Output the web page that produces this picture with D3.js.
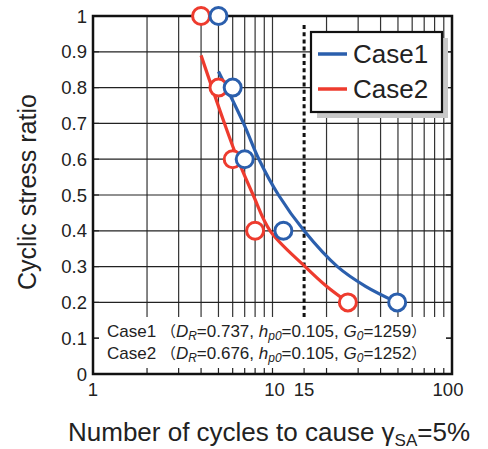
<!DOCTYPE html>
<html>
<head>
<meta charset="UTF-8">
<script src="https://d3js.org/d3.v7.min.js"></script>
<style>
  body { margin: 0; background: #fff; }
  svg { display: block; font-family: "Liberation Sans", Arial, sans-serif; }
  .paren { font-family: "Noto Sans CJK JP", sans-serif; font-size: 15px; }
</style>
</head>
<body>
<svg width="488" height="449"></svg>
<script>
// measured points (cyclic stress ratio vs cycles to gamma_SA = 5%)
const csrLevels = [1.0, 0.8, 0.6, 0.4, 0.2];
const case1Cycles = [5.0, 6.0, 7.0, 11.5, 49.5];
const case2Cycles = [4.0, 5.0, 6.0, 8.0, 26.3];

// fitted curves
const case1CurveN = [5.0, 6.9, 8.4, 10.8, 15.0, 23.0, 33.0, 49.4];
const case1CurveCSR = [0.845, 0.7, 0.6, 0.5, 0.4, 0.3, 0.245, 0.2];
const case2CurveN = [4.0, 5.4, 6.4, 7.8, 9.7, 15.2, 20.0, 26.3];
const case2CurveCSR = [0.89, 0.7, 0.6, 0.5, 0.4, 0.3, 0.245, 0.2];

const xTickLabels = [1, 10, 15, 100];
const refCycles = 15;

const caseNames = ["Case1", "Case2"];
const caseColors = ["#2b5fad", "#ee3b2e"];
const caseParams = [
  {DR: "0.737", hp0: "0.105", G0: "1259"},
  {DR: "0.676", hp0: "0.105", G0: "1252"}
];

const svg = d3.select("svg");
const pL = 93, pR = 452, pT = 16, pB = 374;

const x = d3.scaleLog().domain([1, 100]).range([pL, pR]);
const y = d3.scaleLinear().domain([0, 1]).range([pB, pT]);

// grid
const g = svg.append("g");
g.selectAll("line.vx").data(x.ticks()).enter().append("line")
  .attr("x1", d => x(d)).attr("x2", d => x(d))
  .attr("y1", pT).attr("y2", pB)
  .attr("stroke", "#333").attr("stroke-width", 1.2);
g.selectAll("line.hy").data(y.ticks(10)).enter().append("line")
  .attr("x1", pL).attr("x2", pR)
  .attr("y1", d => y(d)).attr("y2", d => y(d))
  .attr("stroke", "#222").attr("stroke-width", 1.2);

// dotted line at N = 15
svg.append("line")
  .attr("x1", x(refCycles)).attr("x2", x(refCycles))
  .attr("y1", pT + 9).attr("y2", pB)
  .attr("stroke", "#111").attr("stroke-width", 3)
  .attr("stroke-dasharray", "4,3.2");

// annotation box hides grid
svg.append("rect")
  .attr("x", pL + 6).attr("y", 317)
  .attr("width", pR - pL - 12).attr("height", pB - 317 - 1)
  .attr("fill", "#fff");

// inward ticks
const tk = svg.append("g").attr("stroke", "#222").attr("stroke-width", 1.2);
y.ticks(10).forEach(v => {
  tk.append("line").attr("x1", pL).attr("x2", pL + 6).attr("y1", y(v)).attr("y2", y(v));
  tk.append("line").attr("x1", pR - 6).attr("x2", pR).attr("y1", y(v)).attr("y2", y(v));
});
x.ticks().concat([refCycles]).forEach(v => {
  tk.append("line").attr("x1", x(v)).attr("x2", x(v)).attr("y1", pB).attr("y2", pB - 6);
});

// frame
svg.append("rect")
  .attr("x", pL).attr("y", pT)
  .attr("width", pR - pL).attr("height", pB - pT)
  .attr("fill", "none").attr("stroke", "#111").attr("stroke-width", 2.5);

// tick labels
svg.append("g").selectAll("text").data(y.ticks(10)).enter().append("text")
  .attr("x", pL - 6).attr("y", d => y(d))
  .attr("text-anchor", "end").attr("dominant-baseline", "central")
  .style("font-size", "18.5px").attr("fill", "#222")
  .text(d => (d === 0 || d === 1) ? d3.format("d")(d) : d.toFixed(1));
svg.append("g").selectAll("text").data(xTickLabels).enter().append("text")
  .attr("x", d => x(d) + (d === 10 ? 2 : d === 100 ? -4 : 0)).attr("y", 396)
  .attr("text-anchor", "middle")
  .style("font-size", "18.5px").attr("fill", "#222")
  .text(d => d);

// axis titles
svg.append("text")
  .attr("transform", "translate(36,192) rotate(-90)")
  .attr("text-anchor", "middle")
  .style("font-size", "25px").attr("fill", "#222")
  .text("Cyclic stress ratio");
const xt = svg.append("text")
  .attr("x", 269).attr("y", 441)
  .attr("text-anchor", "middle")
  .style("font-size", "26px").attr("fill", "#222");
xt.append("tspan").text("Number of cycles to cause γ");
xt.append("tspan").attr("dy", 5).style("font-size", "17px").text("SA");
xt.append("tspan").attr("dy", -5).text("=5%");

// curves
const line = d3.line().x(d => x(d[0])).y(d => y(d[1])).curve(d3.curveCatmullRom.alpha(0.5));
const curves = [
  d3.zip(case1CurveN, case1CurveCSR),
  d3.zip(case2CurveN, case2CurveCSR)
];
[1, 0].forEach(i => {
  svg.append("path").datum(curves[i])
    .attr("d", line)
    .attr("fill", "none").attr("stroke", caseColors[i]).attr("stroke-width", 3.2);
});

// points
const pts = [d3.zip(case1Cycles, csrLevels), d3.zip(case2Cycles, csrLevels)];
[1, 0].forEach(i => {
  svg.append("g").selectAll("circle").data(pts[i]).enter().append("circle")
    .attr("cx", d => x(d[0])).attr("cy", d => y(d[1])).attr("r", 8.5)
    .attr("fill", "#fff").attr("stroke", caseColors[i]).attr("stroke-width", 3);
});

// legend
const lg = svg.append("g");
lg.append("rect").attr("x", 317).attr("y", 38).attr("width", 131).attr("height", 80).attr("fill", "#c8c8c8");
lg.append("rect").attr("x", 311).attr("y", 32).attr("width", 131).attr("height", 80)
  .attr("fill", "#fff").attr("stroke", "#111").attr("stroke-width", 2.2);
caseNames.forEach((name, i) => {
  const yy = 54 + i * 35;
  lg.append("line").attr("x1", 318).attr("x2", 347).attr("y1", yy).attr("y2", yy)
    .attr("stroke", caseColors[i]).attr("stroke-width", 3.5);
  lg.append("text").attr("x", 353).attr("y", yy + 9)
    .style("font-size", "26px").attr("fill", "#222").text(name);
});

// parameters note
caseNames.forEach((name, i) => {
  const p = caseParams[i];
  const t = svg.append("text").attr("x", 107).attr("y", 337 + i * 22)
    .style("font-size", "17px").attr("fill", "#222");
  t.append("tspan").text(name + " ");
  t.append("tspan").attr("class", "paren").text("（");
  t.append("tspan").style("font-style", "italic").text("D");
  t.append("tspan").style("font-style", "italic").style("font-size", "12px").attr("dy", 3).text("R");
  t.append("tspan").attr("dy", -3).text("=" + p.DR + ", ");
  t.append("tspan").style("font-style", "italic").text("h");
  t.append("tspan").style("font-style", "italic").style("font-size", "12px").attr("dy", 3).text("p0");
  t.append("tspan").attr("dy", -3).text("=" + p.hp0 + ", ");
  t.append("tspan").style("font-style", "italic").text("G");
  t.append("tspan").style("font-style", "italic").style("font-size", "12px").attr("dy", 3).text("0");
  t.append("tspan").attr("dy", -3).text("=" + p.G0);
  t.append("tspan").attr("class", "paren").text("）");
});
</script>
</body>
</html>
